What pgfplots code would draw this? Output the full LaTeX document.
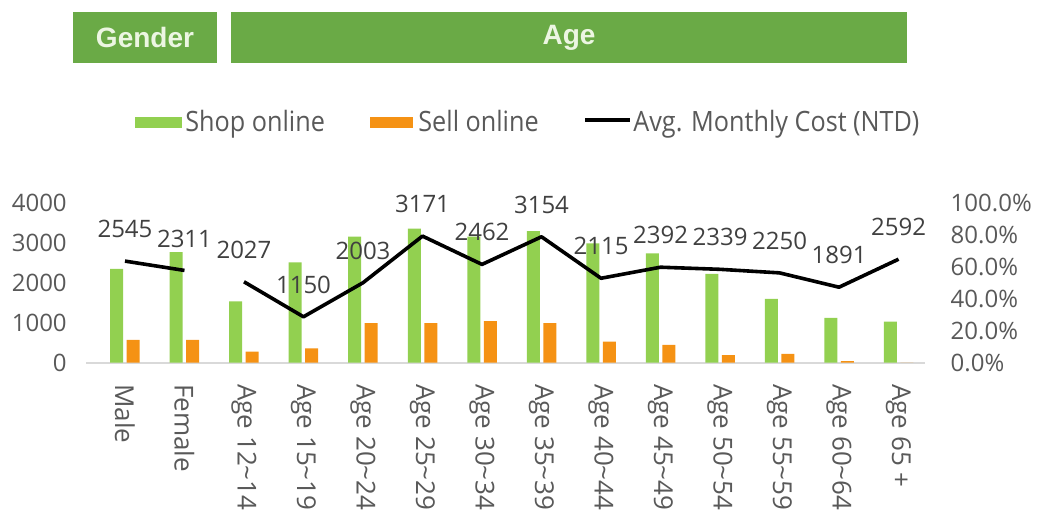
\documentclass[border=0pt]{standalone}
\usepackage{pgfplots}
\pgfplotsset{compat=1.18}
\usepackage{fontspec}
\usepackage{graphicx}
\setmainfont{Open Sans}
\newfontfamily\headfont{Liberation Sans}

\definecolor{shopgreen}{RGB}{146,208,80}
\definecolor{sellorange}{RGB}{245,146,20}
\definecolor{headgreen}{RGB}{106,170,70}
\definecolor{headtext}{RGB}{236,246,226}
\definecolor{labgray}{RGB}{89,89,89}
\definecolor{datagray}{RGB}{64,64,64}
\definecolor{axgray}{RGB}{217,217,217}

\pgfplotsset{
  common/.style={
    scale only axis, width=419.5pt, height=79.85pt,
    at={(O)}, anchor=south west,
    xmin=-0.65, xmax=13.45,
    major tick length=0pt,
    clip=false,
    /pgf/number format/assume math mode=true,
    /pgf/number format/1000 sep={},
    tick label style={font=\fontsize{12}{14}\selectfont, text=labgray},
  }
}

\begin{document}
\begin{tikzpicture}
\begin{scope}[x=0.5pt,y=-0.5pt]
\useasboundingbox (0,0) rectangle (1054,515);
\coordinate (O) at (86.3,362.7);
% header boxes
\fill[headgreen] (73,12) rectangle (217,63);
\fill[headgreen] (231,12) rectangle (907,63);
\node[text=headtext, font=\headfont\bfseries\fontsize{14}{16}\selectfont] at (145,37.5) {Gender};
\node[text=headtext, font=\headfont\bfseries\fontsize{14}{16}\selectfont] at (569,37.5) {Age};
% legend
\fill[shopgreen] (135,117) rectangle (182,128);
\node[anchor=base west, inner sep=0pt, text=labgray, font=\fontsize{14}{16}\selectfont] at (185,131.7) {\scalebox{0.9}[1]{Shop online}};
\fill[sellorange] (370,117) rectangle (413,128);
\node[anchor=base west, inner sep=0pt, text=labgray, font=\fontsize{14}{16}\selectfont] at (418,131.7) {\scalebox{0.9}[1]{Sell online}};
\draw[black, line width=2pt] (585,120) -- (630,120);
\node[anchor=base west, inner sep=0pt, text=labgray, font=\fontsize{14}{16}\selectfont] at (633,131.7) {\scalebox{0.9}[1]{Avg. Monthly Cost (NTD)}};
\end{scope}

% bars: share of people (right axis, %)
\begin{axis}[
  common,
  ymin=0, ymax=100,
  axis y line*=right, axis x line*=bottom,
  y axis line style={draw=none},
  x axis line style={draw=axgray, line width=0.8pt},
  ybar=1.75pt, bar width=6.5pt,
  xtick={0,...,13},
  xticklabels={Male,Female,Age 12\textasciitilde 14,Age 15\textasciitilde 19,Age 20\textasciitilde 24,Age 25\textasciitilde 29,Age 30\textasciitilde 34,Age 35\textasciitilde 39,Age 40\textasciitilde 44,Age 45\textasciitilde 49,Age 50\textasciitilde 54,Age 55\textasciitilde 59,Age 60\textasciitilde 64,Age 65 +},
  xticklabel style={rotate=-90, anchor=west, inner sep=0pt, font=\fontsize{13}{15}\selectfont},
  xticklabel shift=10.5pt,
  ytick={0,20,...,100},
  yticklabel={\pgfmathprintnumber[fixed,fixed zerofill,precision=1]{\tick}\%},
  yticklabel style={anchor=west, inner sep=0pt},
  yticklabel shift=12.5pt,
]
\addplot[fill=shopgreen, draw=none] coordinates {
  (0,58.7) (1,69.2) (2,38.4) (3,62.9) (4,78.9) (5,83.9) (6,78.9)
  (7,82.4) (8,74.7) (9,68.4) (10,55.6) (11,39.9) (12,28.1) (13,25.8)
};
\addplot[fill=sellorange, draw=none] coordinates {
  (0,14.3) (1,14.3) (2,6.9) (3,9.0) (4,24.8) (5,24.8) (6,26.0)
  (7,24.8) (8,13.2) (9,11.1) (10,4.7) (11,5.6) (12,1.0) (13,0)
};
\end{axis}

% line: average monthly cost (left axis, NTD)
\begin{axis}[
  common,
  ymin=0, ymax=4000,
  axis y line*=left, axis x line=none,
  y axis line style={draw=none},
  ytick={0,1000,...,4000},
  yticklabel style={anchor=east, inner sep=0pt},
  yticklabel shift=9.6pt,
  every node near coord/.append style={font=\fontsize{12}{14}\selectfont, text=datagray, anchor=center, yshift=16pt},
]
\addplot[black, line width=1.8pt, line join=round, nodes near coords] coordinates {
  (0,2545) (1,2311)
};
\addplot[black, line width=1.8pt, line join=round, nodes near coords] coordinates {
  (2,2027) (3,1150) (4,2003) (5,3171) (6,2462) (7,3154) (8,2115)
  (9,2392) (10,2339) (11,2250) (12,1891) (13,2592)
};
\end{axis}
\end{tikzpicture}
\end{document}
